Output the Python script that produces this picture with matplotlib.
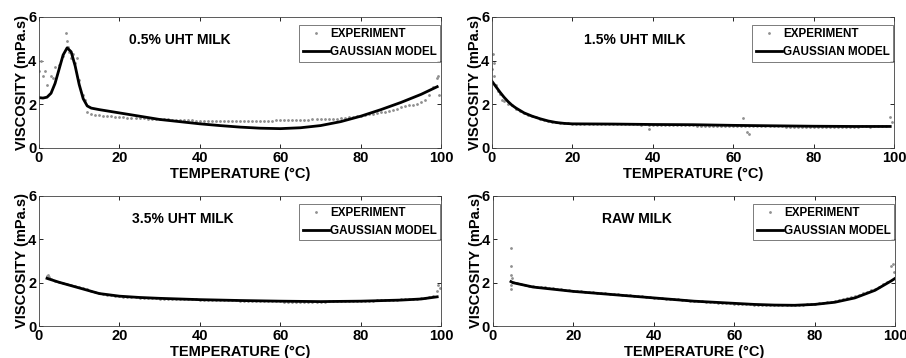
import numpy as np
import matplotlib
matplotlib.use('Agg')
import matplotlib.pyplot as plt

plt.rcParams['font.family'] = ['Liberation Sans', 'DejaVu Sans']
plt.rcParams['font.weight'] = 'bold'

# ---- 0.5% UHT milk ----
exp1_t = list(range(0, 100))
exp1_v = [3.5, 3.3, 2.9, 3.3, 3.7, 3.8, 4.2, 4.9, 4.1, 3.9,
          3.1, 2.4, 1.62, 1.55, 1.52, 1.50, 1.48, 1.46, 1.45, 1.43,
          1.42, 1.40, 1.38, 1.37, 1.36, 1.36, 1.35, 1.34, 1.33, 1.32,
          1.31, 1.30, 1.30, 1.29, 1.28, 1.28, 1.27, 1.27, 1.26, 1.25,
          1.25, 1.24, 1.24, 1.23, 1.23, 1.22, 1.22, 1.22, 1.21, 1.22,
          1.22, 1.22, 1.23, 1.22, 1.23, 1.22, 1.23, 1.24, 1.25, 1.26,
          1.26, 1.27, 1.27, 1.28, 1.28, 1.28, 1.29, 1.29, 1.30, 1.30,
          1.30, 1.31, 1.32, 1.33, 1.34, 1.35, 1.37, 1.39, 1.42, 1.45,
          1.47, 1.50, 1.53, 1.56, 1.59, 1.62, 1.66, 1.70, 1.75, 1.80,
          1.86, 1.90, 1.94, 1.97, 2.02, 2.08, 2.20, 2.40, 2.80, 3.20]
out1_t = [0.5, 1.5, 3.5, 6.8, 7.2, 7.5, 8.5, 9.5, 11.5, 99.5, 99.3]
out1_v = [4.0, 3.5, 3.2, 5.25, 4.6, 4.4, 4.3, 4.1, 2.2, 2.4, 3.3]
mod1_t = [0, 1, 2, 3, 4, 5, 6, 7, 8, 9, 10, 11, 12, 13, 15, 20, 25, 30, 35,
          40, 45, 50, 55, 60, 65, 70, 75, 80, 85, 90, 95, 99]
mod1_v = [2.30, 2.28, 2.32, 2.50, 2.95, 3.60, 4.25, 4.58, 4.40, 3.75,
          2.90, 2.25, 1.92, 1.82, 1.75, 1.60, 1.45, 1.30, 1.20,
          1.10, 1.02, 0.95, 0.90, 0.88, 0.92, 1.02, 1.20, 1.45, 1.75,
          2.08, 2.45, 2.80]

# ---- 1.5% UHT milk ----
exp2_t = list(range(0, 100))
exp2_v = [3.60, 2.90, 2.45, 2.15, 2.02, 1.95, 1.78, 1.68, 1.58, 1.50,
          1.45, 1.40, 1.33, 1.28, 1.24, 1.20, 1.17, 1.15, 1.13, 1.12,
          1.11, 1.10, 1.10, 1.09, 1.10, 1.09, 1.08, 1.09, 1.08, 1.08,
          1.08, 1.08, 1.07, 1.08, 1.07, 1.07, 1.07, 1.06, 1.07, 1.06,
          1.06, 1.06, 1.06, 1.05, 1.06, 1.05, 1.05, 1.05, 1.04, 1.04,
          1.03, 1.02, 1.02, 1.02, 1.01, 1.02, 1.01, 1.00, 1.01, 1.00,
          1.00, 1.01, 1.00, 1.00, 1.02, 1.01, 1.00, 1.00, 0.99, 0.99,
          0.99, 0.98, 0.98, 0.97, 0.96, 0.95, 0.95, 0.96, 0.96, 0.97,
          0.97, 0.97, 0.97, 0.97, 0.97, 0.97, 0.96, 0.97, 0.97, 0.97,
          0.97, 0.97, 0.98, 0.98, 0.97, 0.98, 0.98, 0.98, 0.99, 1.40]
out2_t = [0.2, 0.4, 0.6, 1.5, 2.5, 39.0, 62.5, 63.5, 64.0, 99.5]
out2_v = [4.3, 3.9, 3.3, 2.6, 2.2, 0.85, 1.35, 0.72, 0.62, 1.2]
mod2_t = [0, 1, 2, 3, 4, 5, 6, 8, 10, 12, 14, 16, 18, 20, 30, 40, 50, 60,
          70, 80, 90, 99]
mod2_v = [3.05, 2.80, 2.55, 2.32, 2.12, 1.95, 1.82, 1.60, 1.45, 1.33,
          1.23, 1.16, 1.12, 1.10, 1.09, 1.07, 1.06, 1.03, 1.01, 0.99,
          0.98, 0.98]

# ---- 3.5% UHT milk ----
exp3_t = list(range(2, 100))
exp3_v = [2.30, 2.15, 2.08, 2.02, 1.97, 1.93, 1.88, 1.83, 1.78, 1.74,
          1.69, 1.64, 1.58, 1.52, 1.48, 1.45, 1.42, 1.40, 1.38, 1.36,
          1.34, 1.33, 1.32, 1.31, 1.30, 1.29, 1.28, 1.28, 1.27, 1.27,
          1.26, 1.26, 1.25, 1.25, 1.24, 1.24, 1.23, 1.23, 1.22, 1.22,
          1.22, 1.21, 1.21, 1.20, 1.20, 1.20, 1.19, 1.19, 1.18, 1.18,
          1.17, 1.17, 1.17, 1.16, 1.16, 1.15, 1.15, 1.14, 1.14, 1.13,
          1.12, 1.12, 1.11, 1.10, 1.10, 1.09, 1.09, 1.10, 1.11, 1.12,
          1.14, 1.14, 1.15, 1.16, 1.17, 1.16, 1.16, 1.17, 1.17, 1.18,
          1.18, 1.18, 1.19, 1.19, 1.20, 1.21, 1.21, 1.22, 1.23, 1.24,
          1.25, 1.26, 1.27, 1.29, 1.31, 1.33, 1.40, 1.60]
out3_t = [2.2, 2.5, 99.3, 99.6]
out3_v = [2.35, 2.25, 1.90, 1.75]
mod3_t = [2, 5, 10, 15, 20, 25, 30, 40, 50, 60, 70, 80, 90, 95, 99]
mod3_v = [2.20, 2.02, 1.76, 1.50, 1.38, 1.32, 1.28, 1.22, 1.18, 1.15,
          1.13, 1.15, 1.20, 1.25, 1.35]

# ---- raw milk ----
exp4_t = list(range(5, 100))
exp4_v = [2.05, 1.98, 1.94, 1.90, 1.87, 1.84, 1.82, 1.80, 1.78, 1.76,
          1.74, 1.72, 1.70, 1.68, 1.66, 1.64, 1.62, 1.60, 1.58, 1.57,
          1.55, 1.54, 1.52, 1.51, 1.49, 1.48, 1.46, 1.45, 1.43, 1.42,
          1.40, 1.38, 1.37, 1.35, 1.33, 1.31, 1.29, 1.28, 1.26, 1.27,
          1.25, 1.23, 1.21, 1.20, 1.18, 1.17, 1.15, 1.14, 1.12, 1.11,
          1.10, 1.08, 1.07, 1.06, 1.05, 1.04, 1.03, 1.02, 1.01, 1.00,
          0.99, 0.98, 0.98, 0.97, 0.97, 0.96, 0.96, 0.96, 0.96, 0.97,
          0.97, 0.98, 0.99, 1.00, 1.01, 1.03, 1.05, 1.07, 1.10, 1.13,
          1.17, 1.21, 1.25, 1.28, 1.35, 1.40, 1.45, 1.52, 1.58, 1.65,
          1.72, 1.82, 1.92, 2.05, 2.75]
out4_t = [4.5, 4.5, 4.6, 4.7, 4.6, 4.4, 99.5, 99.7]
out4_v = [3.6, 2.75, 2.35, 2.2, 1.9, 1.7, 2.85, 2.5]
mod4_t = [4.5, 5, 10, 20, 30, 40, 50, 60, 65, 70, 75, 80, 85, 90, 95, 99, 100]
mod4_v = [2.05, 2.00, 1.80, 1.60, 1.45, 1.30, 1.15, 1.05, 1.00, 0.97,
          0.96, 1.00, 1.10, 1.30, 1.65, 2.08, 2.20]

titles = ['0.5% UHT MILK', '1.5% UHT MILK', '3.5% UHT MILK', 'RAW MILK']
title_x = [0.35, 0.355, 0.357, 0.358]
panels = [(exp1_t, exp1_v, out1_t, out1_v, mod1_t, mod1_v),
          (exp2_t, exp2_v, out2_t, out2_v, mod2_t, mod2_v),
          (exp3_t, exp3_v, out3_t, out3_v, mod3_t, mod3_v),
          (exp4_t, exp4_v, out4_t, out4_v, mod4_t, mod4_v)]

fig = plt.figure(figsize=(9.06, 3.58), dpi=100)
rects = [[0.043, 0.587, 0.444, 0.366],
         [0.543, 0.587, 0.444, 0.366],
         [0.043, 0.089, 0.444, 0.364],
         [0.544, 0.089, 0.444, 0.364]]

for i in range(4):
    et, ev, ot, ov, mt, mv = panels[i]
    ax = fig.add_axes(rects[i])
    ax.plot(et, ev, '.', color='#909090', markersize=2.0, label='EXPERIMENT')
    ax.plot(ot, ov, '.', color='#909090', markersize=2.0)
    ax.plot(mt, mv, '-', color='black', linewidth=2.0, label='GAUSSIAN MODEL')
    ax.set_xlim(0, 100)
    ax.set_ylim(0, 6)
    ax.set_xticks([0, 20, 40, 60, 80, 100])
    ax.set_yticks([0, 2, 4, 6])
    ax.tick_params(direction='in', top=True, right=True, length=3,
                   width=0.6, labelsize=10.5, pad=2)
    for s in ax.spines.values():
        s.set_linewidth(0.6)
        s.set_color('#404040')
    ax.set_xlabel('TEMPERATURE (°C)', fontsize=10.5, fontweight='bold')
    ax.xaxis.set_label_coords(0.5, -0.145)
    ax.set_ylabel('VISCOSITY (mPa.s)', fontsize=10.5, fontweight='bold',
                  va='center')
    ax.yaxis.set_label_coords(-0.042, 0.5)
    ax.text(title_x[i], 0.82, titles[i], transform=ax.transAxes,
            fontsize=10, fontweight='bold', ha='center', va='center')
    leg = ax.legend(loc='upper right', bbox_to_anchor=(0.998, 0.94),
                    borderaxespad=0, frameon=True, fancybox=False,
                    edgecolor='#404040', handlelength=2.3, handletextpad=0.05,
                    borderpad=0.3, labelspacing=0.5, markerscale=1.0,
                    prop={'weight': 'bold', 'size': 8.4})
    leg.get_frame().set_linewidth(0.6)

fig.savefig('out.png', dpi=100)
